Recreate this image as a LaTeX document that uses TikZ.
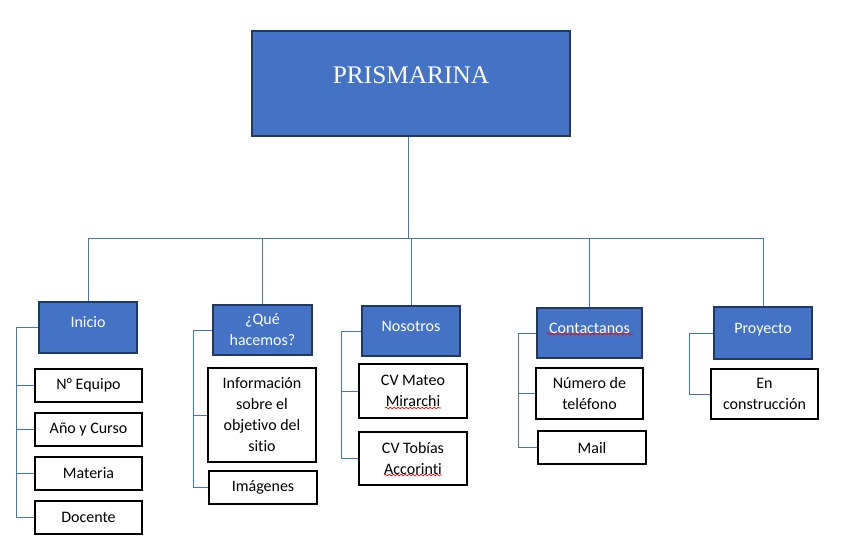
\documentclass[tikz,border=0pt]{standalone}
\usepackage{fontspec}
\setmainfont{Carlito}[Ligatures=NoCommon]
\newfontfamily\titlefont{Liberation Serif}
\usetikzlibrary{decorations.pathmorphing}
\definecolor{boxblue}{RGB}{68,114,196}
\definecolor{boxedge}{RGB}{32,56,100}
\definecolor{linkblue}{RGB}{68,114,196}
\def\pxu{0.75pt}

\tikzset{
	head/.style={draw=boxedge, fill=boxblue, text=white, line width=0.9pt, inner sep=0pt, align=center},
	oneline/.style={text height=9pt, text depth=9pt},
	item/.style={draw=black, fill=white, line width=0.9pt, inner sep=0pt, align=center},
	link/.style={draw=linkblue, line width=0.7pt},
	typo/.style={draw=red, line width=0.5pt, decorate, decoration={snake, segment length=3pt, amplitude=0.6pt}}
}

\begin{document}
\begin{tikzpicture}[x=0.75pt,y=-0.75pt,font=\fontsize{12}{15.75}\selectfont]
	\useasboundingbox (0,0) rectangle (843,557);
	% top box
	\node[head, oneline, minimum width=318*\pxu, minimum height=105*\pxu, font=\titlefont\fontsize{19}{23}\selectfont] (title) at (411,83.5) {PRISMARINA};
	% sections
	\node[head, oneline, minimum width=98*\pxu, minimum height=51*\pxu] (inicio) at (88,327.5) {Inicio};
	\node[head, minimum width=99*\pxu, minimum height=50*\pxu] (que) at (262.5,330) {¿Qué\\hacemos?};
	\node[head, oneline, minimum width=98*\pxu, minimum height=50*\pxu] (nos) at (411,331) {Nosotros};
	\node[head, oneline, minimum width=105*\pxu, minimum height=50*\pxu] (cont) at (589.5,333) {Contactanos};
	\node[head, oneline, minimum width=98*\pxu, minimum height=52*\pxu] (proy) at (763,333) {Proyecto};
	% items
	\node[item, minimum width=107*\pxu, minimum height=33*\pxu] (equipo) at (88.5,385.5) {N° Equipo};
	\node[item, minimum width=107*\pxu, minimum height=33*\pxu] (curso) at (88.5,429.5) {Año y Curso};
	\node[item, minimum width=107*\pxu, minimum height=33*\pxu] (materia) at (88.5,473.5) {Materia};
	\node[item, minimum width=107*\pxu, minimum height=33*\pxu] (docente) at (88.5,517.5) {Docente};
	\node[item, minimum width=108*\pxu, minimum height=94*\pxu] (info) at (262,415) {Información\\sobre el\\objetivo del\\sitio};
	\node[item, minimum width=108*\pxu, minimum height=33*\pxu] (img) at (263,487.5) {Imágenes};
	\node[item, minimum width=108*\pxu, minimum height=54*\pxu] (mateo) at (413,391) {CV Mateo\\Mirarchi};
	\node[item, minimum width=108*\pxu, minimum height=53*\pxu] (tobias) at (413,458.5) {CV Tobías\\Accorinti};
	\node[item, minimum width=107*\pxu, minimum height=51*\pxu] (tel) at (589.5,393.5) {Número de\\teléfono};
	\node[item, minimum width=108*\pxu, minimum height=33*\pxu] (mail) at (592,447.5) {Mail};
	\node[item, minimum width=107*\pxu, minimum height=50*\pxu] (obra) at (764.5,394) {En\\construcción};
	% tree
	\coordinate (bus) at (408,238);
	\draw[link] (title.south-|bus) -- (bus);
	\foreach \n in {inicio,que,nos,cont,proy}
		\draw[link] (\n.north) |- (bus);
	% brackets
	\path (inicio.west) ++(-22,0) coordinate (sp1);
	\path (que.west) ++(-19,0) coordinate (sp2);
	\path (nos.west) ++(-20,0) coordinate (sp3);
	\path (cont.west) ++(-18,0) coordinate (sp4);
	\path (proy.west) ++(-24,0) coordinate (sp5);
	\draw[link] (inicio.west) -- (sp1);
	\draw[link] (que.west) -- (sp2);
	\draw[link] (nos.west) -- (sp3);
	\draw[link] (cont.west) -- (sp4);
	\draw[link] (proy.west) -- (sp5);
	\foreach \c in {equipo,curso,materia,docente} \draw[link] (sp1) |- (\c.west);
	\foreach \c in {info,img} \draw[link] (sp2) |- (\c.west);
	\foreach \c in {mateo,tobias} \draw[link] (sp3) |- (\c.west);
	\foreach \c in {tel,mail} \draw[link] (sp4) |- (\c.west);
	\draw[link] (sp5) |- (obra.west);
	% spelling marks
	\draw[typo] (385,408) -- (441,408);
	\draw[typo] (384,475) -- (442,475);
	\draw[typo] (547,334) -- (633,334);
\end{tikzpicture}
\end{document}
